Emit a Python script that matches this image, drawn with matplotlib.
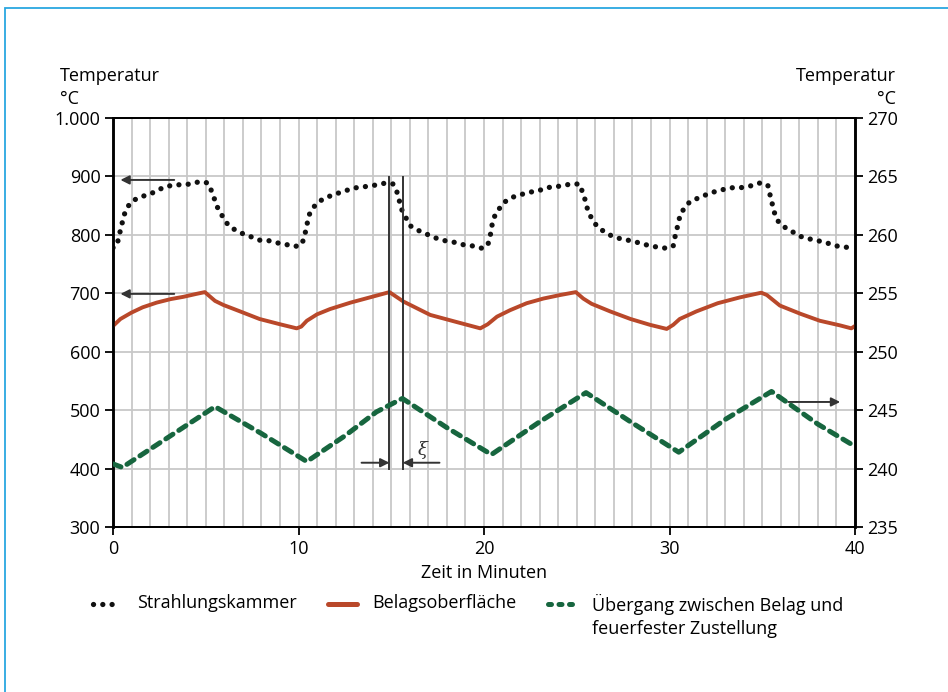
import matplotlib
matplotlib.use("Agg")
import matplotlib.pyplot as plt
from matplotlib.lines import Line2D
from matplotlib.patches import Rectangle
from matplotlib.ticker import FuncFormatter, MultipleLocator

plt.rcParams["font.family"] = ["Open Sans", "DejaVu Sans"]
plt.rcParams["font.size"] = 13

# Strahlungskammer, linke Achse (°C)
kammer_t = [0.0, 0.2, 0.3, 0.4, 0.5, 0.6, 0.75, 1.0, 1.4, 1.9, 2.3, 2.7, 3.2, 3.7, 4.2, 4.65,
            5.1, 5.3, 5.45, 5.6, 5.8, 6.2, 6.6, 7.0, 7.5, 7.9, 8.4, 8.9, 9.4, 9.8, 10.15,
            10.3, 10.4, 10.5, 10.6, 10.8, 11.1, 11.5, 12.0, 12.4, 12.95, 13.95, 14.75, 15.1,
            15.3, 15.42, 15.5, 15.65, 16.05, 16.5, 17.0, 17.45, 17.9, 18.45, 18.9, 19.4, 19.9,
            20.2, 20.3, 20.4, 20.45, 20.6, 20.85, 21.1, 21.5, 22.0, 22.45, 22.9, 23.4, 23.85,
            24.3, 24.75, 25.15, 25.3, 25.45, 25.55, 25.7, 26.1, 26.5, 26.95, 27.4, 27.9, 28.4,
            28.85, 29.35, 29.85, 30.2, 30.3, 30.4, 30.5, 30.6, 30.85, 31.1, 31.55, 32.0, 32.45,
            32.95, 33.45, 33.9, 34.4, 34.9, 35.3, 35.4, 35.5, 35.6, 35.7, 35.9, 36.3, 36.7,
            37.1, 37.55, 38.0, 38.5, 39.0, 39.5, 40.0]
kammer_v = [778, 781, 794, 808, 821, 834, 846, 857, 864, 869, 874, 881, 885, 886, 887, 891,
            889, 876, 863, 849, 837, 817, 808, 802, 796, 791, 790, 786, 783, 780, 783,
            794, 809, 824, 836, 847, 857, 864, 870, 874, 880, 884, 889, 887,
            874, 861, 848, 837, 815, 807, 800, 794, 790, 787, 783, 781, 777,
            782, 794, 808, 821, 834, 846, 856, 864, 869, 873, 875, 881, 882,
            885, 887, 887, 874, 860, 847, 834, 814, 805, 797, 793, 790, 786,
            782, 779, 777, 781, 797, 810, 824, 837, 847, 857, 863, 869, 874,
            878, 881, 881, 884, 889, 885, 871, 858, 845, 833, 821, 811, 804,
            797, 793, 790, 786, 781, 779, 776]

# Belagsoberfläche, linke Achse (°C)
belag_t = [0.0, 0.4, 1.0, 1.6, 2.35, 3.1, 3.8, 4.5, 4.95, 5.5, 5.95, 6.85, 7.9, 9.0, 9.9,
           10.15, 10.45, 11.0, 11.7, 12.8, 13.5, 14.2, 14.9, 15.65, 17.1, 18.5, 19.8,
           20.2, 20.7, 21.4, 22.3, 23.2, 24.1, 24.95, 25.35, 25.8, 26.8, 27.9, 28.95, 29.85,
           30.2, 30.55, 31.45, 32.6, 33.8, 34.95, 35.25, 35.95, 37.05, 38.1, 39.2, 39.8, 40.0]
belag_v = [644, 656, 667, 676, 684, 690, 694, 699, 702, 687, 680, 669, 656, 647, 640,
           643, 653, 664, 673, 684, 690, 696, 702, 686, 663, 651, 640,
           647, 660, 671, 683, 691, 697, 702, 691, 682, 669, 656, 646, 639,
           646, 656, 669, 683, 693, 701, 697, 679, 665, 653, 645, 640, 644]

# Übergang zwischen Belag und feuerfester Zustellung, rechte Achse (°C)
uebergang_t = [0.0, 0.5, 3.0, 5.5, 8.0, 10.45, 12.5, 14.2, 15.6, 18.0, 20.4, 23.0, 25.5,
               28.0, 30.5, 33.0, 35.5, 38.0, 40.0]
uebergang_v = [240.4, 240.1, 242.7, 245.3, 243.0, 240.6, 242.8, 244.85, 246.0, 243.5, 241.2,
               244.0, 246.5, 243.9, 241.4, 244.2, 246.6, 243.8, 241.9]

x_ticks = [0, 10, 20, 30, 40]
left_ticks = [300, 400, 500, 600, 700, 800, 900, 1000]
right_ticks = [235, 240, 245, 250, 255, 260, 265, 270]

orange = "#b9482a"
green = "#17663f"
grid_grey = "#c8c8c8"
arrow_grey = "#333333"

fig = plt.figure(figsize=(9.48, 6.92), dpi=100)
ax = fig.add_axes([113 / 948, 1 - 527 / 692, 742 / 948, 409 / 692])
ax2 = ax.twinx()

ax.set_xlim(0, 40)
ax.set_ylim(300, 1000)
ax2.set_ylim(235, 270)

ax.set_xticks(x_ticks)
ax.xaxis.set_minor_locator(MultipleLocator(1))
ax.set_yticks(left_ticks)
ax2.set_yticks(right_ticks)
ax.yaxis.set_major_formatter(FuncFormatter(lambda v, p: f"{int(v):,}".replace(",", ".")))

ax.grid(True, which="both", axis="x", color=grid_grey, lw=1.3)
ax.grid(True, which="major", axis="y", color=grid_grey, lw=1.3)
ax.set_axisbelow(True)
ax.tick_params(axis="x", which="minor", length=0)
ax.tick_params(axis="both", which="major", length=6, width=1.3, color="black",
               labelsize=13, pad=3)
ax2.tick_params(axis="y", length=6, width=1.3, labelsize=13, pad=3)

for a in (ax, ax2):
    for side in ("top", "bottom"):
        a.spines[side].set_linewidth(1.3)
    for side in ("left", "right"):
        a.spines[side].set_linewidth(1.8)

dot_style = (0, (0.01, 1.75))
dash_style = (0, (1.7, 1.4))

ax.plot(kammer_t, kammer_v, color="#111111", lw=3.8, ls=dot_style,
        dash_capstyle="round", zorder=3)
ax.plot(belag_t, belag_v, color=orange, lw=2.8, solid_joinstyle="round", zorder=3)
ax2.plot(uebergang_t, uebergang_v, color=green, lw=3.6, ls=dash_style,
         dash_capstyle="round", zorder=3)

# Pfeile zur Achsenzuordnung
arrow_kw = dict(arrowstyle="-|>", color=arrow_grey, lw=1.4, mutation_scale=13,
                shrinkA=0, shrinkB=0)
ax.annotate("", xy=(0.4, 894), xytext=(3.3, 894), arrowprops=arrow_kw, zorder=4)
ax.annotate("", xy=(0.4, 699), xytext=(3.3, 699), arrowprops=arrow_kw, zorder=4)
ax.annotate("", xy=(39.2, 514), xytext=(36.4, 514), arrowprops=arrow_kw, zorder=4)

# Phasenverschiebung xi
ax.plot([14.9, 14.9], [399, 899], color=arrow_grey, lw=1.4, zorder=4)
ax.plot([15.62, 15.62], [399, 899], color=arrow_grey, lw=1.4, zorder=4)
ax.annotate("", xy=(14.9, 410), xytext=(13.4, 410), arrowprops=arrow_kw, zorder=4)
ax.annotate("", xy=(15.62, 410), xytext=(17.6, 410), arrowprops=arrow_kw, zorder=4)
ax.text(16.7, 432, "ξ", fontsize=13, ha="center", va="center", color=arrow_grey,
        family=["DejaVu Serif"], style="italic")

fig.text(60 / 948, 1 - 76 / 692, "Temperatur", ha="left", va="center", fontsize=13)
fig.text(60 / 948, 1 - 99 / 692, "°C", ha="left", va="center", fontsize=13)
fig.text(896 / 948, 1 - 76 / 692, "Temperatur", ha="right", va="center", fontsize=13)
fig.text(896 / 948, 1 - 99 / 692, "°C", ha="right", va="center", fontsize=13)
fig.text(484 / 948, 1 - 573 / 692, "Zeit in Minuten", ha="center", va="center", fontsize=13)

# Legende
legend_y = 1 - 604 / 692
items = [
    (93, 120, 137, dict(color="#111111", lw=3.8, ls=dot_style, dash_capstyle="round"),
     "Strahlungskammer"),
    (328, 357, 372, dict(color=orange, lw=3.6, solid_capstyle="round"),
     "Belagsoberfläche"),
    (548, 577, 592, dict(color=green, lw=3.6, ls=(0, (0.6, 1.5)), dash_capstyle="round"),
     "Übergang zwischen Belag und\nfeuerfester Zustellung"),
]
for x0, x1, xt, style, label in items:
    fig.add_artist(Line2D([x0 / 948, x1 / 948], [legend_y, legend_y],
                          transform=fig.transFigure, **style))
    fig.text(xt / 948, legend_y + 0.014, label, ha="left", va="top", fontsize=13,
             linespacing=1.35)

# hellblauer Rahmen
fig.add_artist(Rectangle((5 / 948, -0.2), 1.2, 1 - 8 / 692 + 0.2,
                         transform=fig.transFigure, fill=False,
                         edgecolor="#2aa7e0", lw=1.3))

fig.savefig("out.png", dpi=100)
